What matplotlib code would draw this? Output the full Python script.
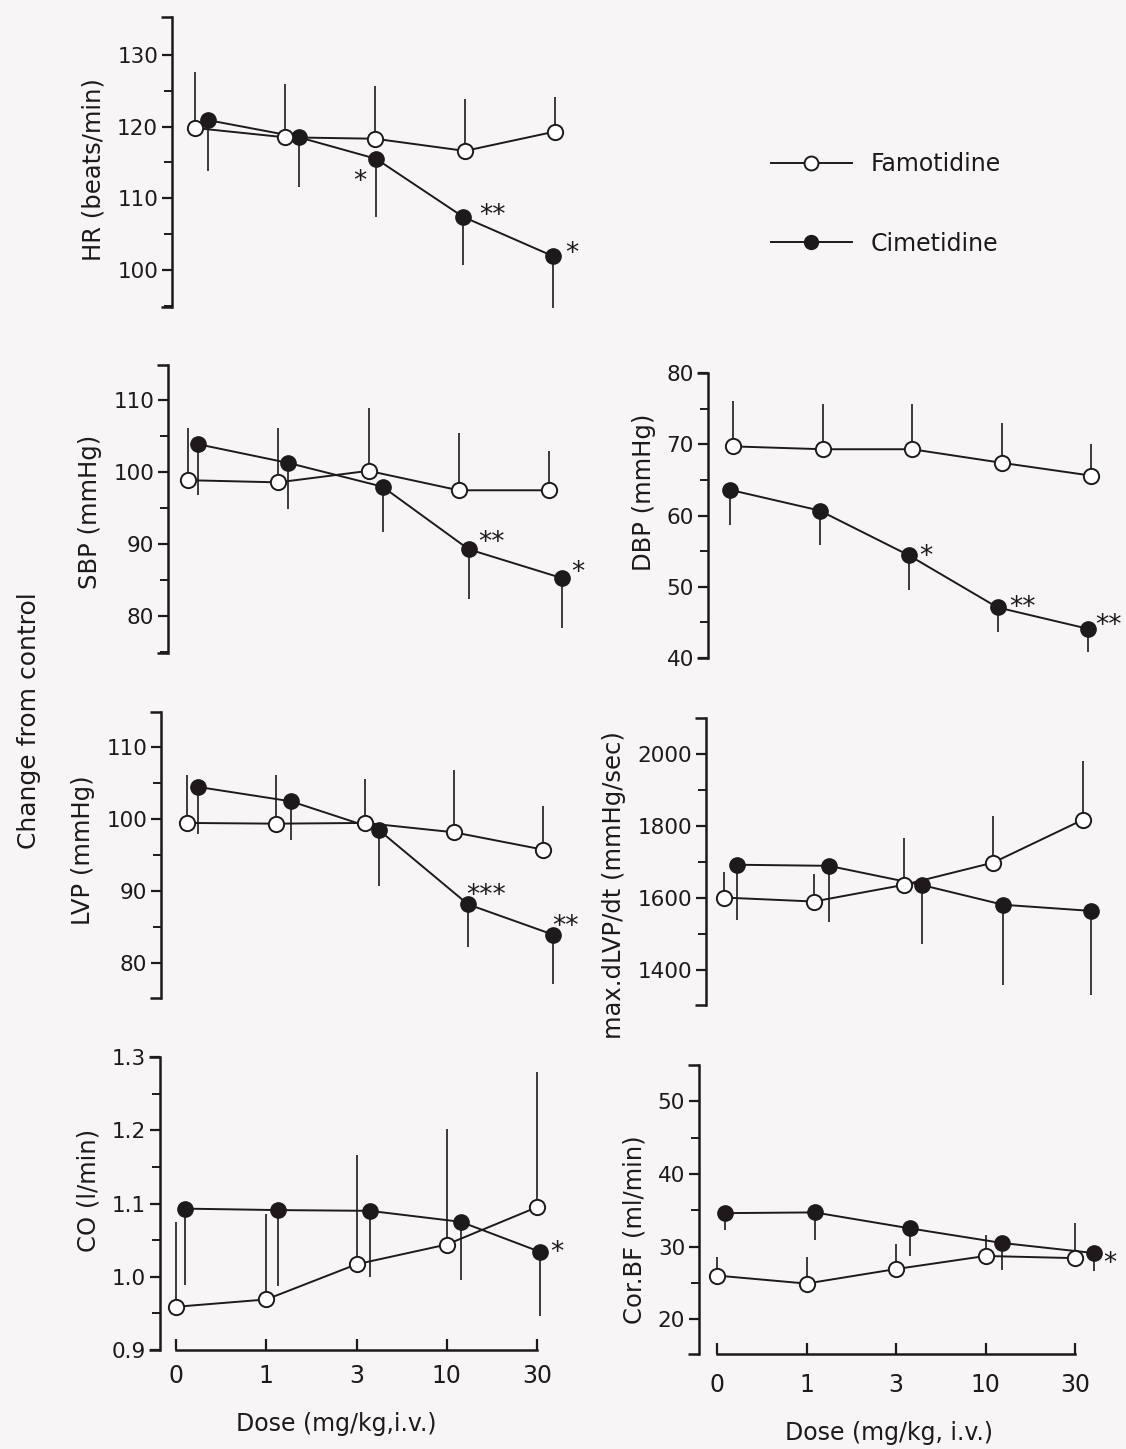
import numpy as np
import matplotlib.pyplot as plt
from matplotlib.lines import Line2D

plt.rcParams['font.family'] = ['DejaVu Sans']

doses = ['0', '1', '3', '10', '30']

# values (famotidine error bars go up, cimetidine down)
hr_fam = [119.8, 118.5, 118.3, 116.6, 119.3]
hr_fam_err = [7.8, 7.5, 7.4, 7.3, 4.8]
hr_cim = [120.9, 118.5, 115.5, 107.4, 101.9]
hr_cim_err = [7.1, 6.9, 8.2, 6.7, 7.2]

sbp_fam = [98.9, 98.6, 100.2, 97.5, 97.5]
sbp_fam_err = [7.2, 7.5, 8.7, 7.9, 5.5]
sbp_cim = [103.9, 101.3, 98.0, 89.3, 85.3]
sbp_cim_err = [7.0, 6.4, 6.3, 6.9, 6.9]

dbp_fam = [69.7, 69.3, 69.3, 67.4, 65.6]
dbp_fam_err = [6.4, 6.4, 6.3, 5.6, 4.5]
dbp_cim = [63.6, 60.7, 54.4, 47.1, 44.1]
dbp_cim_err = [4.9, 4.8, 4.8, 3.5, 3.2]

lvp_fam = [99.5, 99.4, 99.5, 98.2, 95.8]
lvp_fam_err = [6.7, 6.7, 6.1, 8.6, 6.0]
lvp_cim = [104.5, 102.5, 98.5, 88.2, 84.0]
lvp_cim_err = [6.6, 5.4, 7.8, 5.9, 6.8]

dlvp_fam = [1601, 1590, 1636, 1698, 1817]
dlvp_fam_err = [72, 77, 130, 130, 164]
dlvp_cim = [1692, 1689, 1636, 1581, 1564]
dlvp_cim_err = [153, 155, 164, 223, 233]

co_fam = [0.959, 0.969, 1.017, 1.044, 1.095]
co_fam_err = [0.116, 0.117, 0.149, 0.158, 0.185]
co_cim = [1.093, 1.091, 1.090, 1.075, 1.034]
co_cim_err = [0.104, 0.103, 0.090, 0.079, 0.087]

cbf_fam = [26.0, 24.9, 26.9, 28.7, 28.4]
cbf_fam_err = [2.6, 3.7, 3.5, 2.9, 4.9]
cbf_cim = [34.6, 34.7, 32.5, 30.5, 29.1]
cbf_cim_err = [2.3, 3.8, 3.8, 3.7, 2.5]

W, H = 1126, 1449
ink = '#1e1a1c'
bg = '#f8f5f6'

fig = plt.figure(figsize=(W / 100, H / 100), dpi=100, facecolor=bg)


def panel(spine_x, pos0, dx, ytop, ybot, ylim, major, minor, ticklabels,
          ylabel, label_y, fam, fam_err, cim, cim_err, cim_shift, stars,
          xaxis=None):
    right = pos0 + 4.45 * dx
    ax = fig.add_axes([spine_x / W, 1 - ybot / H, (right - spine_x) / W, (ybot - ytop) / H])
    ax.set_facecolor('none')
    ax.set_xlim(-(pos0 - spine_x) / dx, (right - pos0) / dx)
    ax.set_ylim(*ylim)
    x = np.arange(len(doses))
    xc = x + np.array(cim_shift) / dx
    fam = np.array(fam); cim = np.array(cim)

    ax.vlines(x, fam, fam + np.array(fam_err), color=ink, lw=1.2, zorder=2, clip_on=False)
    ax.vlines(xc, cim - np.array(cim_err), cim, color=ink, lw=1.2, zorder=2, clip_on=False)
    ax.plot(x, fam, color=ink, lw=1.4, marker='o', ms=11, mfc='white', mec=ink, mew=1.4,
            zorder=4, clip_on=False)
    ax.plot(xc, cim, color=ink, lw=1.4, marker='o', ms=11, mfc=ink, mec=ink,
            zorder=3, clip_on=False)

    for i, txt, ox, oy in stars:
        ax.annotate(txt, (xc[i], cim[i]), xytext=(ox, oy - 15), textcoords='offset pixels',
                    ha='center', va='baseline', fontsize=19, color=ink)

    for s in ['top', 'right']:
        ax.spines[s].set_visible(False)
    ax.spines['left'].set_linewidth(1.8)
    ax.spines['left'].set_color(ink)
    ax.set_yticks(major)
    ax.set_yticklabels(ticklabels)
    ax.set_yticks(minor, minor=True)
    ax.tick_params(axis='y', which='major', length=7, width=1.6, color=ink,
                   labelsize=15.5, labelcolor=ink, pad=3)
    ax.tick_params(axis='y', which='minor', length=6, width=1.4, color=ink)
    # bracket caps at both ends of the y spine
    for yv in ylim:
        ax.plot(0, yv, marker=0, ms=8, mew=1.8, color=ink,
                transform=ax.get_yaxis_transform(), clip_on=False)

    if xaxis is None:
        ax.spines['bottom'].set_visible(False)
        ax.set_xticks([])
    else:
        ax.spines['bottom'].set_bounds(0, 4)
        ax.spines['bottom'].set_linewidth(1.8)
        ax.spines['bottom'].set_color(ink)
        ax.set_xticks(x)
        ax.set_xticklabels(doses)
        ax.tick_params(axis='x', direction='in', length=8, width=1.6, color=ink,
                       labelsize=17, labelcolor=ink, pad=xaxis[1])
        fig.text(xaxis[2] / W, 1 - xaxis[3] / H, xaxis[0], ha='center', va='center',
                 fontsize=17, color=ink)

    ax.set_ylabel(ylabel, fontsize=17.5, color=ink, labelpad=8)
    ax.yaxis.label.set_y((ybot - label_y) / (ybot - ytop))
    return ax


panel(172, 195, 90, 17, 307, (94.8, 135.3), [100, 110, 120, 130],
      np.arange(95, 135, 5), ['100', '110', '120', '130'],
      'HR (beats/min)', 170, hr_fam, hr_fam_err, hr_cim, hr_cim_err,
      [13, 14, 1, -2, -2],
      [(2, '*', -16, -15), (3, '**', 29, 9), (4, '*', 19, 10)])

panel(168, 188, 90.25, 365, 653, (74.9, 114.9), [80, 90, 100, 110],
      np.arange(75, 115, 5), ['80', '90', '100', '110'],
      'SBP (mmHg)', 512, sbp_fam, sbp_fam_err, sbp_cim, sbp_cim_err,
      [10, 10, 14, 10, 13],
      [(3, '**', 23, 14), (4, '*', 16, 13)])

panel(708, 733, 89.5, 373, 658, (40, 80), [40, 50, 60, 70, 80],
      np.arange(40, 81, 5), ['40', '50', '60', '70', '80'],
      'DBP (mmHg)', 492, dbp_fam, dbp_fam_err, dbp_cim, dbp_cim_err,
      [-3, -3, -3, -4, -3],
      [(2, '*', 17, 6), (3, '**', 25, 7), (4, '**', 20, 11)])

panel(161, 187, 89, 712, 998, (75.2, 114.9), [80, 90, 100, 110],
      np.arange(80, 115, 5), ['80', '90', '100', '110'],
      'LVP (mmHg)', 850, lvp_fam, lvp_fam_err, lvp_cim, lvp_cim_err,
      [11, 15, 14, 14, 10],
      [(3, '***', 18, 16), (4, '**', 12, 16)])

panel(706, 724, 89.75, 718, 1005, (1303, 2099), [1400, 1600, 1800, 2000],
      np.arange(1400, 2100, 100), ['1400', '1600', '1800', '2000'],
      'max.dLVP/dt (mmHg/sec)', 885, dlvp_fam, dlvp_fam_err, dlvp_cim, dlvp_cim_err,
      [13, 15, 18, 10, 8], [])

panel(160, 176, 90.25, 1057, 1350, (0.9, 1.3), [0.9, 1.0, 1.1, 1.2, 1.3],
      np.arange(0.9, 1.31, 0.05), ['0.9', '1.0', '1.1', '1.2', '1.3'],
      'CO (l/min)', 1190, co_fam, co_fam_err, co_cim, co_cim_err,
      [9, 12, 13, 14, 3],
      [(4, '*', 17, 7)],
      xaxis=('Dose (mg/kg,i.v.)', 10, 336, 1424))

panel(699, 717, 89.5, 1065, 1354, (15.2, 55.0), [20, 30, 40, 50],
      np.arange(20, 55, 5), ['20', '30', '40', '50'],
      'Cor.BF (ml/min)', 1230, cbf_fam, cbf_fam_err, cbf_cim, cbf_cim_err,
      [8, 8, 14, 16, 19],
      [(4, '*', 16, -3)],
      xaxis=('Dose (mg/kg, i.v.)', 14, 889, 1433))

fig.text(29 / W, 1 - 721 / H, 'Change from control', rotation=90, ha='center', va='center',
         fontsize=18, color=ink)

handles = [Line2D([], [], color=ink, lw=1.4, marker='o', ms=10, mfc='white', mec=ink, mew=1.4),
           Line2D([], [], color=ink, lw=1.4, marker='o', ms=10, mfc=ink, mec=ink)]
fig.legend(handles, ['Famotidine', 'Cimetidine'], loc='upper left',
           bbox_to_anchor=(750 / W, 1 - 131 / H), frameon=False, fontsize=17,
           handlelength=3.4, handletextpad=0.8, labelspacing=2.35, labelcolor=ink)

fig.savefig('out.png', dpi=100, facecolor=bg)
